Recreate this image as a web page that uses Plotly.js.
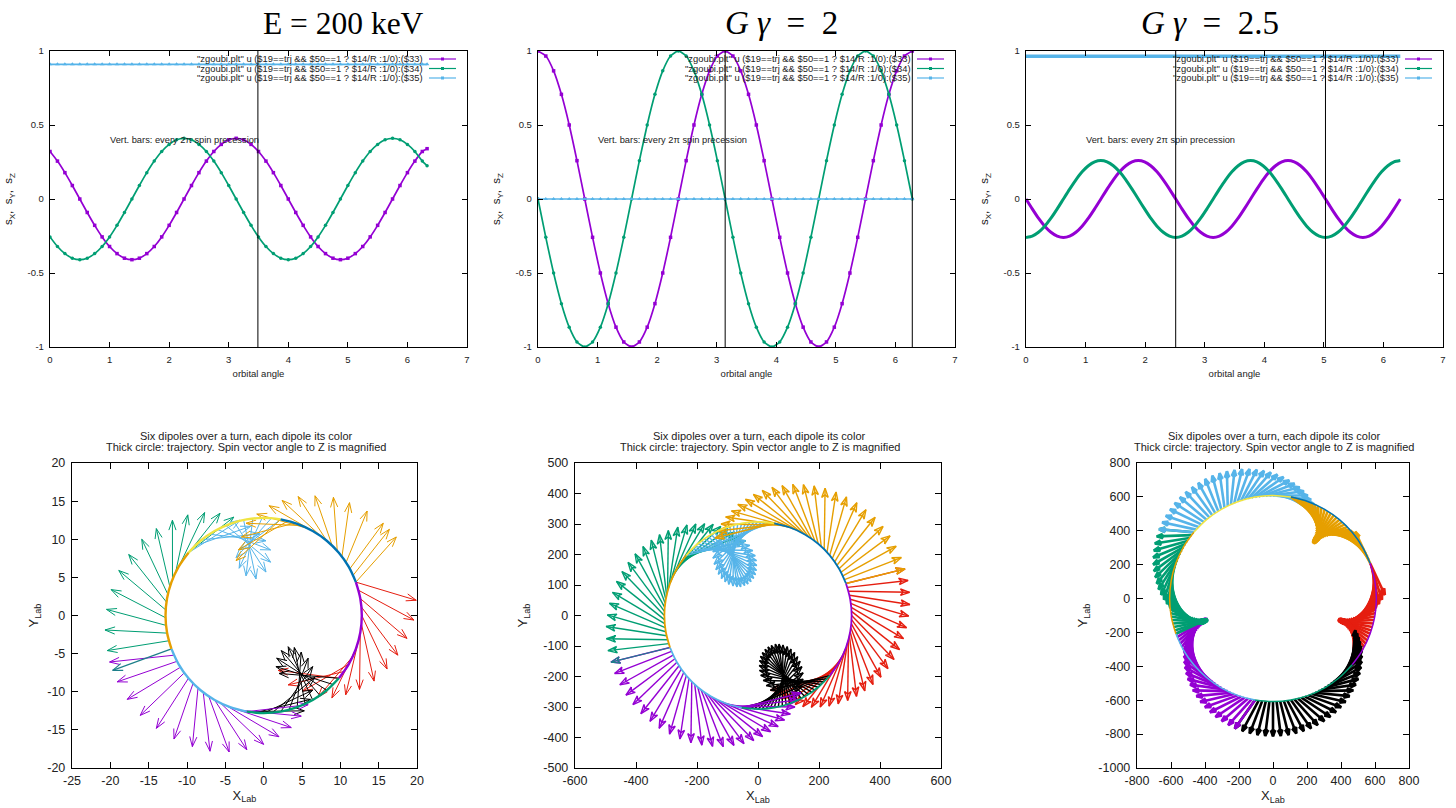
<!DOCTYPE html>
<html><head><meta charset="utf-8">
<script src="https://cdn.plot.ly/plotly-3.0.1.min.js"></script>
<style>html,body{margin:0;padding:0;background:#fff}</style></head>
<body><div id="chart" style="width:1456px;height:808px"></div>
<script>
const purple='#9400d3',green='#009e73',sky='#56b4e9',orange='#e69f00',yellow='#f0e442',blue='#0072b2',red='#e51e10',black='#000000';

/* top row: spin components versus orbital angle */
const topLeftX=[0,.125,.25,.375,.5,.625,.75,.875,1,1.125,1.25,1.375,1.5,1.625,1.75,1.875,2,2.125,2.25,2.375,2.5,2.625,2.75,2.875,3,3.125,3.25,3.375,3.5,3.625,3.75,3.875,4,4.125,4.25,4.375,4.5,4.625,4.75,4.875,5,5.125,5.25,5.375,5.5,5.625,5.75,5.875,6,6.125,6.25,6.33];
const topLeftPurple=[.321,.256,.178,.091,0,-.091,-.178,-.256,-.321,-.369,-.4,-.41,-.4,-.369,-.321,-.256,-.178,-.091,0,.091,.178,.256,.321,.369,.4,.41,.4,.369,.321,.256,.178,.091,0,-.091,-.178,-.256,-.321,-.369,-.4,-.41,-.4,-.369,-.321,-.256,-.178,-.091,0,.091,.178,.256,.321,.34];
const topLeftGreen=[-.256,-.321,-.369,-.4,-.41,-.4,-.369,-.321,-.256,-.178,-.091,0,.091,.178,.256,.321,.369,.4,.41,.4,.369,.321,.256,.178,.091,0,-.091,-.178,-.256,-.321,-.369,-.4,-.41,-.4,-.369,-.321,-.256,-.178,-.091,0,.091,.178,.256,.321,.369,.4,.41,.4,.369,.321,.256,.225];
const topLeftSky=[.91,.91,.91,.91,.91,.91,.91,.91,.91,.91,.91,.91,.91,.91,.91,.91,.91,.91,.91,.91,.91,.91,.91,.91,.91,.91,.91,.91,.91,.91,.91,.91,.91,.91,.91,.91,.91,.91,.91,.91,.91,.91,.91,.91,.91,.91,.91,.91,.91,.91,.91,.91];
const topLeftBars=[3.49];

const topMidX=[0,.131,.262,.393,.524,.654,.785,.916,1.047,1.178,1.309,1.44,1.571,1.702,1.833,1.963,2.094,2.225,2.356,2.487,2.618,2.749,2.88,3.011,3.142,3.272,3.403,3.534,3.665,3.796,3.927,4.058,4.189,4.32,4.451,4.581,4.712,4.843,4.974,5.105,5.236,5.367,5.498,5.629,5.76,5.89,6.021,6.152,6.283];
const topMidPurple=[1,.966,.866,.707,.5,.259,0,-.259,-.5,-.707,-.866,-.966,-1,-.966,-.866,-.707,-.5,-.259,0,.259,.5,.707,.866,.966,1,.966,.866,.707,.5,.259,0,-.259,-.5,-.707,-.866,-.966,-1,-.966,-.866,-.707,-.5,-.259,0,.259,.5,.707,.866,.966,1];
const topMidGreen=[0,-.259,-.5,-.707,-.866,-.966,-1,-.966,-.866,-.707,-.5,-.259,0,.259,.5,.707,.866,.966,1,.966,.866,.707,.5,.259,0,-.259,-.5,-.707,-.866,-.966,-1,-.966,-.866,-.707,-.5,-.259,0,.259,.5,.707,.866,.966,1,.966,.866,.707,.5,.259,0];
const topMidSky=[0,0,0,0,0,0,0,0,0,0,0,0,0,0,0,0,0,0,0,0,0,0,0,0,0,0,0,0,0,0,0,0,0,0,0,0,0,0,0,0,0,0,0,0,0,0,0,0,0];
const topMidBars=[3.142,6.283];

const topRightX=[0,.105,.209,.314,.419,.524,.628,.733,.838,.942,1.047,1.152,1.257,1.361,1.466,1.571,1.676,1.78,1.885,1.99,2.094,2.199,2.304,2.409,2.513,2.618,2.723,2.827,2.932,3.037,3.142,3.246,3.351,3.456,3.561,3.665,3.77,3.875,3.979,4.084,4.189,4.294,4.398,4.503,4.608,4.712,4.817,4.922,5.027,5.131,5.236,5.341,5.445,5.55,5.655,5.76,5.864,5.969,6.074,6.178,6.283];
const topRightPurple=[0,-.067,-.13,-.184,-.225,-.251,-.26,-.251,-.225,-.184,-.13,-.067,0,.067,.13,.184,.225,.251,.26,.251,.225,.184,.13,.067,0,-.067,-.13,-.184,-.225,-.251,-.26,-.251,-.225,-.184,-.13,-.067,0,.067,.13,.184,.225,.251,.26,.251,.225,.184,.13,.067,0,-.067,-.13,-.184,-.225,-.251,-.26,-.251,-.225,-.184,-.13,-.067,0];
const topRightGreen=[-.26,-.251,-.225,-.184,-.13,-.067,0,.067,.13,.184,.225,.251,.26,.251,.225,.184,.13,.067,0,-.067,-.13,-.184,-.225,-.251,-.26,-.251,-.225,-.184,-.13,-.067,0,.067,.13,.184,.225,.251,.26,.251,.225,.184,.13,.067,0,-.067,-.13,-.184,-.225,-.251,-.26,-.251,-.225,-.184,-.13,-.067,0,.067,.13,.184,.225,.251,.26];
const topRightSkyX=[0,6.283];
const topRightSky=[.965,.965];
const topRightBars=[2.513,5.027];

const topXTicks=[0,1,2,3,4,5,6,7];
const topYTicks=[-1,-.5,0,.5,1];

/* bottom row: thick-circle dipole arcs (angle in degrees), shared by the three panels */
const arcPurple=[20,10,0,-10,-20,-30,-40];
const arcGreen=[-40,-50,-60,-70,-80,-90,-100];
const arcSky=[-100,-110,-120,-130,-140,-150,-160];
const arcOrange=[200,190,180,170,160,150,140];
const arcYellow=[140,130,120,110,100,90,80];
const arcBlue=[80,70,60,50,40,30,20];

/* bottom-left arrows */
const aRadius=12.8;
const aRedDeg=[20,15,10,5,0,-5,-10,-15,-20,-25,-30,-35,-40];
const aRedX=[19.9,19.6,18.7,17.5,16.1,14.4,12.5,10.7,8.9,7.1,5.1,3.2,1.9];
const aRedY=[2,-.6,-3,-5.2,-7,-8.6,-9.7,-10.4,-10.8,-10.7,-9.9,-9.1,-7.2];
const aBlackDeg=[-100,-95,-90,-85,-80,-75,-70,-65,-60,-55,-50,-45,-40];
const aBlackX=[5.3,6.1,6.4,6.7,6.4,5.8,4.9,4,3.2,2.3,1.7,1.6,2];
const aBlackY=[-12.5,-11,-9.8,-8.1,-6.7,-5.6,-4.8,-4.2,-4.1,-4.6,-5.6,-6.7,-7.6];
const aPurpleDeg=[204,208,212,216,220,224,228,232,236,240,244,248,252,256,260];
const aPurpleX=[-20.1,-19.1,-17.8,-16.1,-14,-11.7,-9.3,-7,-4.5,-2.2,0,2,3.6,4.9,5.8];
const aPurpleY=[-6.1,-8.7,-11,-13.1,-14.8,-16.2,-17.2,-17.8,-17.9,-17.6,-16.9,-15.9,-14.7,-13.2,-11.7];
const aSeamDeg=[200], aSeamX=[-19.7], aSeamY=[-7.2];
const aGreenDeg=[195,190.4,185.8,181.3,176.7,172.1,167.5,162.9,158.3,153.8,149.2,144.6,140];
const aGreenX=[-20.4,-20.7,-20.5,-19.9,-18.9,-17.6,-15.9,-14,-11.9,-9.9,-7.7,-5.7,-3.9];
const aGreenY=[-4.6,-1.9,.8,3.4,5.9,8,10,11.4,12.5,13.2,13.5,13.4,12.9];
const aSkyDeg=[140,134.5,129.1,123.6,118.2,112.7,107.3,101.8,96.4,90.9,85.5,80];
const aSkyX=[-3.1,-1.7,-.5,.3,.9,.9,.3,-1,-2.3,-3.2,-3.6,-3.1];
const aSkyY=[12.5,11.7,10.7,9.8,8.6,7,5.7,4.8,5.2,6.2,7.6,8.6];
const aOrangeDeg=[20,24.3,28.6,32.9,37.1,41.4,45.7,50,54.3,58.6,62.9,67.1,71.4,75.7,80];
const aOrangeX=[17.3,16.4,15.6,13.5,11.2,9.1,6.7,4.5,2.4,.7,-.9,-2.3,-2.9,-3.3,-3.6];
const aOrangeY=[10.3,11.3,12.1,13.7,14.8,15.5,15.7,15.6,15.1,14.4,13.3,12.1,10.3,8.6,7.2];

/* bottom-middle arrows */
const bRadius=307;
const bRedDeg=[20,17.5,15,12.5,10,7.5,5,2.5,0,-2.5,-5,-7.5,-10,-12.5,-15,-17.5,-20,-22.5,-25,-27.5,-30,-32.5,-35,-37.5,-40];
const bRedX=[482,492,497,498,494,487,477,464,446,426,403,377,350,323,294,263,233,204,175,147,122,98,76,58,41];
const bRedY=[153,115,76,36,-2,-40,-76,-112,-144,-174,-202,-226,-247,-265,-279,-290,-297,-300,-301,-299,-292,-284,-273,-260,-245];
const bBlackDeg=[-40,-42.5,-45,-47.5,-50,-52.5,-55,-57.5,-60,-62.5,-65,-67.5,-70,-72.5,-75,-77.5,-80,-82.5,-85,-87.5,-90,-92.5,-95,-97.5,-100];
const bBlackX=[41,27,17,9,5,4,5,8,14,23,33,44,57,69,82,96,108,120,130,138,144,148,148,146,141];
const bBlackY=[-245,-230,-213,-196,-180,-164,-148,-134,-122,-111,-103,-98,-94,-94,-97,-102,-110,-121,-135,-150,-168,-188,-209,-231,-254];
const bPurpleDeg=[260,257.5,255,252.5,250,247.5,245,242.5,240,237.5,235,232.5,230,227.5,225,222.5,220,217.5,215,212.5,210,207.5,205,202.5,200];
const bPurpleX=[141,133,121,106,87,66,41,15,-14,-46,-79,-114,-149,-184,-220,-256,-290,-324,-354,-384,-410,-433,-453,-470,-482];
const bPurpleY=[-254,-277,-300,-323,-343,-364,-381,-397,-410,-420,-426,-430,-429,-425,-417,-405,-389,-370,-347,-322,-292,-261,-227,-190,-153];
const bSeamDeg=[200], bSeamX=[-482], bSeamY=[-153];
const bGreenDeg=[197.5,195,192.5,190,187.5,185,182.5,180,177.5,175,172.5,170,167.5,165,162.5,160,157.5,155,152.5,150,147.5,145,142.5,140];
const bGreenX=[-492,-497,-498,-494,-487,-477,-464,-446,-426,-403,-377,-350,-323,-294,-263,-233,-204,-175,-147,-122,-98,-76,-58,-41];
const bGreenY=[-115,-76,-36,2,40,76,112,144,174,202,226,247,265,279,290,297,300,301,299,292,284,273,260,245];
const bSkyDeg=[140,137.5,135,132.5,130,127.5,125,122.5,120,117.5,115,112.5,110,107.5,105,102.5,100,97.5,95,92.5,90,87.5,85,82.5,80];
const bSkyX=[-41,-27,-17,-9,-5,-4,-5,-8,-14,-23,-33,-44,-57,-69,-82,-96,-108,-120,-130,-138,-144,-148,-148,-146,-141];
const bSkyY=[245,230,213,196,180,164,148,134,122,111,103,98,94,94,97,102,110,121,135,150,168,188,209,231,254];
const bOrangeDeg=[80,77.5,75,72.5,70,67.5,65,62.5,60,57.5,55,52.5,50,47.5,45,42.5,40,37.5,35,32.5,30,27.5,25,22.5,20];
const bOrangeX=[-141,-133,-121,-106,-87,-66,-41,-15,14,46,79,114,149,184,220,256,290,324,354,384,410,433,453,470,482];
const bOrangeY=[254,277,300,323,343,364,381,397,410,420,426,430,429,425,417,405,389,370,347,322,292,261,227,190,153];

/* bottom-right arrows */
const cRadius=608;
const cRedDeg=[20,18,16,14,12,10,8,6,4,2,0,-2,-4,-6,-8,-10,-12,-14,-16,-18,-20,-22,-24,-26,-28,-30,-32,-34,-36,-38,-40];
const cRedX=[658,641,623,604,584,563,542,522,501,482,463,446,431,418,406,397,390,386,383,383,385,390,396,404,414,424,436,447,460,472,484];
const cRedY=[22,-7,-33,-57,-79,-96,-111,-123,-134,-141,-145,-147,-148,-147,-145,-142,-137,-133,-129,-125,-121,-119,-118,-120,-121,-126,-133,-143,-155,-169,-187];
const cBlackDeg=[-40,-42,-44,-46,-48,-50,-52,-54,-56,-58,-60,-62,-64,-66,-68,-70,-72,-74,-76,-78,-80,-82,-84,-86,-88,-90,-92,-94,-96,-98,-100];
const cBlackX=[484,495,504,512,519,523,524,523,519,512,502,488,472,451,428,401,371,338,302,263,224,181,137,92,46,0,-46,-92,-137,-181,-224];
const cBlackY=[-187,-206,-228,-253,-280,-309,-339,-372,-405,-439,-474,-508,-542,-576,-610,-641,-671,-699,-724,-747,-767,-783,-796,-806,-811,-813,-811,-806,-796,-783,-767];
const cPurpleDeg=[-100,-102,-104,-106,-108,-110,-112,-114,-116,-118,-120,-122,-124,-126,-128,-130,-132,-134,-136,-138,-140,-142,-144,-146,-148,-150,-152,-154,-156,-158,-160];
const cPurpleX=[-224,-263,-302,-338,-371,-401,-428,-451,-472,-488,-502,-512,-519,-523,-524,-523,-519,-512,-504,-495,-484,-472,-460,-447,-436,-424,-414,-404,-396,-390,-385];
const cPurpleY=[-767,-747,-724,-699,-671,-641,-610,-576,-542,-508,-474,-439,-405,-372,-339,-309,-280,-253,-228,-206,-187,-169,-155,-143,-133,-126,-121,-120,-118,-119,-121];
const cGreenDeg=[200,198,196,194,192,190,188,186,184,182,180,178,176,174,172,170,168,166,164,162,160,158,156,154,152,150,148,146,144,142,140];
const cGreenX=[-385,-383,-383,-386,-390,-397,-406,-418,-431,-446,-463,-482,-501,-522,-542,-563,-584,-604,-623,-641,-658,-673,-684,-693,-701,-705,-705,-701,-695,-684,-670];
const cGreenY=[-121,-125,-129,-133,-137,-142,-145,-147,-148,-147,-145,-141,-134,-123,-111,-96,-76,-57,-33,-7,22,54,88,125,162,201,242,283,325,367,409];
const cSkyDeg=[140,138,136,134,132,130,128,126,124,122,120,118,116,114,112,110,108,106,104,102,100,98,96,94,92,90,88,86,84,82,80];
const cSkyX=[-670,-652,-631,-606,-579,-548,-514,-477,-439,-399,-357,-314,-271,-226,-182,-138,-95,-53,-13,26,62,96,127,157,182,205,224,241,255,266,274];
const cSkyY=[409,450,489,527,564,598,629,658,683,706,725,740,751,759,764,764,761,754,745,732,717,698,678,657,633,608,583,557,532,506,481];
const cOrangeDeg=[80,78,76,74,72,70,68,66,64,62,60,58,56,54,52,50,48,46,44,42,40,38,36,34,32,30,28,26,24,22,20];
const cOrangeX=[274,278,281,283,281,278,274,268,263,256,251,245,241,237,234,234,235,238,243,252,262,274,290,307,327,349,373,399,426,455,484];
const cOrangeY=[481,458,435,414,395,378,364,351,341,334,329,326,325,326,329,334,340,347,355,364,373,381,389,397,402,407,408,409,405,402,394];

const botAXTicks=[-25,-20,-15,-10,-5,0,5,10,15,20];
const botAYTicks=[-20,-15,-10,-5,0,5,10,15,20];
const botBXTicks=[-600,-400,-200,0,200,400,600];
const botBYTicks=[-500,-400,-300,-200,-100,0,100,200,300,400,500];
const botCXTicks=[-800,-600,-400,-200,0,200,400,600,800];
const botCYTicks=[-1000,-800,-600,-400,-200,0,200,400,600,800];

const W=1456,H=808;
const boxes={
 top:[[50,467],[538,955],[1026,1443]],
 bot:[[72,417],[575,941],[1137,1409]],
 topY:[51,347], botY:[463,768]
};
const traces=[];
function lineTrace(ax,x,y,color,width,extra){
  traces.push(Object.assign({type:'scatter',mode:'lines',x:x,y:y,xaxis:'x'+ax,yaxis:'y'+ax,
    line:{color:color,width:width},hoverinfo:'skip',showlegend:false},extra||{}));
}
function curve(ax,x,y,color,sym,msize,width){
  traces.push({type:'scatter',mode:msize?'lines+markers':'lines',x:x,y:y,xaxis:'x'+ax,yaxis:'y'+ax,
    line:{color:color,width:width,shape:'spline',smoothing:.6},
    marker:{color:color,size:msize,symbol:sym},hoverinfo:'skip',showlegend:false});
}
function bars(ax,vals){
  vals.forEach(v=>lineTrace(ax,[v,v],[-1,1],black,1));
}
function vectors(ax,R,deg,tx,ty,color,width,headLen,closed){
  const xs=[],ys=[];
  deg.forEach((d,i)=>{
    const a=d*Math.PI/180,bx=R*Math.cos(a),by=R*Math.sin(a),dx=tx[i]-bx,dy=ty[i]-by,l=Math.hypot(dx,dy),ux=dx/l,uy=dy/l;
    xs.push(bx,tx[i],null);ys.push(by,ty[i],null);
    const h=headLen,s=.36;
    const p1=[tx[i]-h*ux+h*s*uy,ty[i]-h*uy-h*s*ux],p2=[tx[i]-h*ux-h*s*uy,ty[i]-h*uy+h*s*ux];
    if(closed){
      const n=[tx[i]-h*.72*ux,ty[i]-h*.72*uy];
      xs.push(p1[0],tx[i],p2[0],n[0],p1[0],null);ys.push(p1[1],ty[i],p2[1],n[1],p1[1],null);
    }else{
      xs.push(p1[0],tx[i],p2[0],null);ys.push(p1[1],ty[i],p2[1],null);
    }
  });
  lineTrace(ax,xs,ys,color,width);
}
function arc(ax,R,deg,color,width){
  lineTrace(ax,deg.map(d=>R*Math.cos(d*Math.PI/180)),deg.map(d=>R*Math.sin(d*Math.PI/180)),color,width,{line:{color:color,width:width,shape:'spline'}});
}
const arcs=[[arcPurple,purple],[arcGreen,green],[arcSky,sky],[arcOrange,orange],[arcYellow,yellow],[arcBlue,blue]];

/* top row */
curve('',topLeftX,topLeftPurple,purple,'square',3.5,1.7);
curve('',topLeftX,topLeftGreen,green,'circle',3.5,1.7);
curve('',topLeftX,topLeftSky,sky,'triangle-up',4,1.7);
bars('',topLeftBars);
curve('2',topMidX,topMidPurple,purple,'square',3.5,1.7);
curve('2',topMidX,topMidGreen,green,'circle',3.5,1.7);
curve('2',topMidX,topMidSky,sky,'triangle-up',4,1.7);
bars('2',topMidBars);
curve('3',topRightX,topRightPurple,purple,'square',0,3);
curve('3',topRightX,topRightGreen,green,'circle',0,3);
curve('3',topRightSkyX,topRightSky,sky,'triangle-up',0,3.5);
bars('3',topRightBars);

/* bottom row */
const hA=1.3,hB=30,hC=36;
const wB=1.4,wC=2.6;
vectors('4',aRadius,aRedDeg,aRedX,aRedY,red,1,hA,false);
vectors('4',aRadius,aBlackDeg,aBlackX,aBlackY,black,1,hA,false);
vectors('4',aRadius,aPurpleDeg,aPurpleX,aPurpleY,purple,1,hA,false);
vectors('4',aRadius,aSeamDeg,aSeamX,aSeamY,'#1d7f8a',1.2,hA,false);
vectors('4',aRadius,aGreenDeg,aGreenX,aGreenY,green,1,hA,false);
vectors('4',aRadius,aSkyDeg,aSkyX,aSkyY,sky,1,hA,false);
vectors('4',aRadius,aOrangeDeg,aOrangeX,aOrangeY,orange,1,hA,false);
arcs.forEach(a=>arc('4',aRadius,a[0],a[1],2.4));

vectors('5',bRadius,bRedDeg,bRedX,bRedY,red,wB,hB,true);
vectors('5',bRadius,bBlackDeg,bBlackX,bBlackY,black,wB,hB,true);
vectors('5',bRadius,bPurpleDeg,bPurpleX,bPurpleY,purple,wB,hB,true);
vectors('5',bRadius,bSeamDeg,bSeamX,bSeamY,'#1d7f8a',1.2,hB,true);
vectors('5',bRadius,bGreenDeg,bGreenX,bGreenY,green,wB,hB,true);
vectors('5',bRadius,bSkyDeg,bSkyX,bSkyY,sky,wB,hB,true);
vectors('5',bRadius,bOrangeDeg,bOrangeX,bOrangeY,orange,wB,hB,true);
arcs.forEach(a=>arc('5',bRadius,a[0],a[1],1.8));

vectors('6',cRadius,cRedDeg,cRedX,cRedY,red,wC,hC,true);
vectors('6',cRadius,cBlackDeg,cBlackX,cBlackY,black,wC,hC,true);
vectors('6',cRadius,cPurpleDeg,cPurpleX,cPurpleY,purple,wC,hC,true);
vectors('6',cRadius,cGreenDeg,cGreenX,cGreenY,green,wC,hC,true);
vectors('6',cRadius,cSkyDeg,cSkyX,cSkyY,sky,wC,hC,true);
vectors('6',cRadius,cOrangeDeg,cOrangeX,cOrangeY,orange,wC,hC,true);
arcs.forEach(a=>arc('6',cRadius,a[0],a[1],1.5));

/* layout */
const FONT='"Liberation Sans", Arial, sans-serif', INK='#222';
function axis(range,ticks,size,dom,anchor,title,standoff,tsize,labelGap){
  return {domain:dom,range:range,anchor:anchor,tickmode:'array',tickvals:ticks,ticktext:ticks.map(String),
    ticks:'inside',ticklen:size>11?6:5,tickwidth:1,tickcolor:black,showgrid:false,zeroline:false,
    showline:true,mirror:'ticks',linecolor:black,linewidth:1.2,
    tickfont:{family:FONT,size:size,color:INK},ticklabelstandoff:labelGap,
    title:{text:title,standoff:standoff,font:{family:FONT,size:tsize,color:INK}},automargin:false};
}
const dx=b=>[b[0]/W,b[1]/W], dy=b=>[1-b[1]/H,1-b[0]/H];
const layout={width:W,height:H,margin:{l:0,r:0,t:0,b:0},paper_bgcolor:'#fff',plot_bgcolor:'#fff',autosize:false,annotations:[],shapes:[]};
const SZ='s<sub>X</sub>,  s<sub>Y</sub>,  s<sub>Z</sub>';
['','2','3'].forEach((s,i)=>{
  layout['xaxis'+s]=axis([0,7],topXTicks,9.5,dx(boxes.top[i]),'y'+s,'orbital angle',6,9.5,3);
  layout['yaxis'+s]=axis([-1,1],topYTicks,9.5,dy(boxes.topY),'x'+s,SZ,12,11.5,3);
});
[[botAXTicks,botAYTicks,[-25,20],[-20,20]],[botBXTicks,botBYTicks,[-600,600],[-500,500]],[botCXTicks,botCYTicks,[-800,800],[-1000,800]]].forEach((p,i)=>{
  const s=String(i+4);
  layout['xaxis'+s]=axis(p[2],p[0],12.5,dx(boxes.bot[i]),'y'+s,'X<sub>Lab</sub>',3,13,1);
  layout['yaxis'+s]=axis(p[3],p[1],12.5,dy(boxes.botY),'x'+s,'Y<sub>Lab</sub>',[5,12,7][i],13,3);
});
function note(text,px,py,size,align,family,color){
  layout.annotations.push({xref:'paper',yref:'paper',x:px/W,y:1-py/H,text:text,showarrow:false,borderpad:0,borderwidth:0,
    xanchor:align,yanchor:'middle',font:{family:family||FONT,size:size,color:color||INK},align:'center'});
}
const SERIF='"Liberation Serif", serif';
note('E = 200 keV',343,23,31.5,'center',SERIF,black);
note('<i>G γ</i>\u2002=\u20022',781,23,33,'center',SERIF,black);
note('<i>G γ</i>\u2002=\u20022.5',1210,23,33,'center',SERIF,black);
const LEG=['"zgoubi.plt" u ($19==trj && $50==1 ? $14/R :1/0):($33)','"zgoubi.plt" u ($19==trj && $50==1 ? $14/R :1/0):($34)','"zgoubi.plt" u ($19==trj && $50==1 ? $14/R :1/0):($35)'];
const LEGCOL=[purple,green,sky];
[423,911,1399].forEach((xr,pi)=>{
  [59,68.5,78].forEach((yy,k)=>{
    note(LEG[k],xr,yy,9.4,'right');
    layout.shapes.push({type:'line',xref:'paper',yref:'paper',x0:(xr+6)/W,x1:(xr+33)/W,y0:1-yy/H,y1:1-yy/H,line:{color:LEGCOL[k],width:1.2}});
    layout.shapes.push({type:'rect',xref:'paper',yref:'paper',x0:(xr+18)/W,x1:(xr+21)/W,y0:1-(yy-1.5)/H,y1:1-(yy+1.5)/H,fillcolor:LEGCOL[k],line:{width:0}});
  });
});
[184,672,1160].forEach(x=>note('Vert. bars: every 2π spin precession',x,140,9.3,'center'));
[246,759.5,1274].forEach(x=>{
  note('Six dipoles over a turn, each dipole its color',x,436,11,'center');
  note('Thick circle: trajectory. Spin vector angle to Z is magnified',x,447,11,'center');
});
Plotly.newPlot('chart',traces,layout,{staticPlot:true,displayModeBar:false});
</script></body></html>
